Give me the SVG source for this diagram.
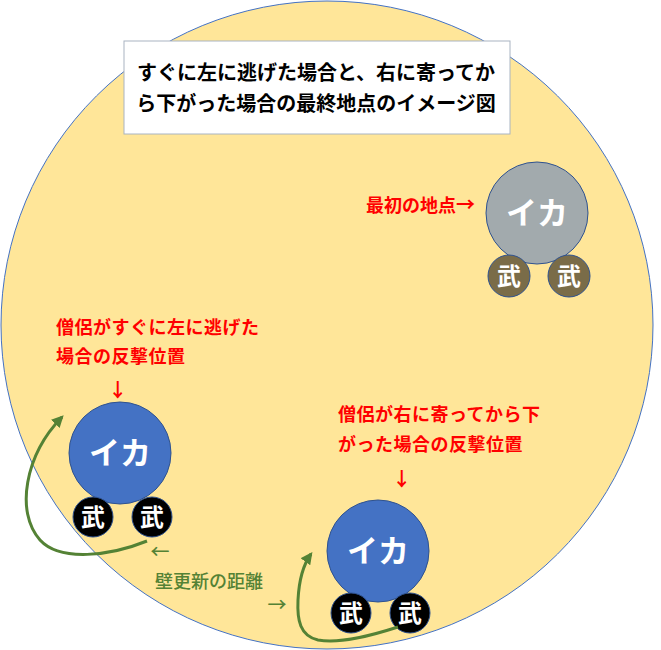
<svg xmlns="http://www.w3.org/2000/svg" width="661" height="650" viewBox="0 0 661 650">
<defs>
<style>
.jp{font-family:"Noto Sans CJK JP","Noto Sans",sans-serif;}
.title{font-size:20px;font-weight:bold;fill:#000;}
.red{font-size:18px;font-weight:bold;fill:#FF0000;letter-spacing:0.5px;}
.grn{font-size:18px;font-weight:500;fill:#548235;}
.arr{font-feature-settings:"fwid" 1;font-size:19px;}
.ika{font-size:31px;font-weight:bold;fill:#fff;text-anchor:middle;}
.bu{font-size:24px;font-weight:bold;fill:#fff;text-anchor:middle;}
.blue{fill:#4472C4;stroke:#2F528F;stroke-width:1;}
.black{fill:#000;stroke:#2F528F;stroke-width:1;}
.gray{fill:#A2AAAD;stroke:#2F528F;stroke-width:1;}
.olive{fill:#7A6C48;stroke:#2F528F;stroke-width:1;}
.curve{fill:none;stroke:#548235;stroke-width:3;marker-end:url(#ah);}
</style>
<marker id="ah" viewBox="0 0 10 10" refX="8" refY="5" markerWidth="4" markerHeight="4" orient="auto" markerUnits="strokeWidth">
<path d="M0,0 L10,5 L0,10 z" fill="#548235"/>
</marker>
</defs>
<g id="field">
<ellipse cx="327" cy="325" rx="326" ry="324" fill="#FFE699" stroke="#4472C4" stroke-width="1"/>
</g>
<g id="title">
<rect x="124" y="41" width="386" height="93" fill="#fff" stroke="#A9B4C2" stroke-width="1"/>
<text class="jp title" x="316" y="80" text-anchor="middle">すぐに左に逃げた場合と、右に寄ってか</text>
<text class="jp title" x="316" y="111" text-anchor="middle">ら下がった場合の最終地点のイメージ図</text>
</g>
<g id="start">
<text class="jp red" x="366" y="212" style="letter-spacing:0">最初の地点<tspan class="arr">→</tspan></text>
<circle class="gray" cx="537" cy="213" r="51"/>
<text class="jp ika" x="537" y="224">イカ</text>
<circle class="olive" cx="509" cy="276" r="21"/>
<text class="jp bu" x="509" y="285">武</text>
<circle class="olive" cx="569" cy="276" r="21"/>
<text class="jp bu" x="569" y="285">武</text>
</g>
<g id="left-pos">
<text class="jp red" x="56" y="334">僧侶がすぐに左に逃げた</text>
<text class="jp red" x="56" y="363">場合の反撃位置</text>
<text class="jp red arr" x="118" y="397" text-anchor="middle">↓</text>
<circle class="blue" cx="120" cy="453" r="51"/>
<text class="jp ika" x="120" y="464">イカ</text>
<circle class="black" cx="93" cy="517" r="20"/>
<text class="jp bu" x="93" y="526">武</text>
<circle class="black" cx="152" cy="517" r="20"/>
<text class="jp bu" x="152" y="526">武</text>
</g>
<g id="right-pos">
<text class="jp red" x="338" y="421">僧侶が右に寄ってから下</text>
<text class="jp red" x="338" y="451">がった場合の反撃位置</text>
<text class="jp red arr" x="402" y="486" text-anchor="middle">↓</text>
<circle class="blue" cx="378" cy="551" r="51"/>
<text class="jp ika" x="378" y="562">イカ</text>
<circle class="black" cx="351" cy="613" r="20"/>
<text class="jp bu" x="351" y="622">武</text>
<circle class="black" cx="410" cy="613" r="20"/>
<text class="jp bu" x="410" y="622">武</text>
</g>
<g id="labels">
<text class="jp grn arr" x="160" y="559" text-anchor="middle">←</text>
<text class="jp grn" x="155" y="588">壁更新の距離</text>
<text class="jp grn arr" x="277" y="612" text-anchor="middle">→</text>
</g>
<g id="connectors">
<path class="curve" d="M147,541 C110,556 60,562 40,540 C15,512 25,455 62,417"/>
<path class="curve" d="M398,627 C370,636 340,644 318,640 C300,636 297,620 298,600 C299,580 303,565 311,554"/>
</g>
</svg>
